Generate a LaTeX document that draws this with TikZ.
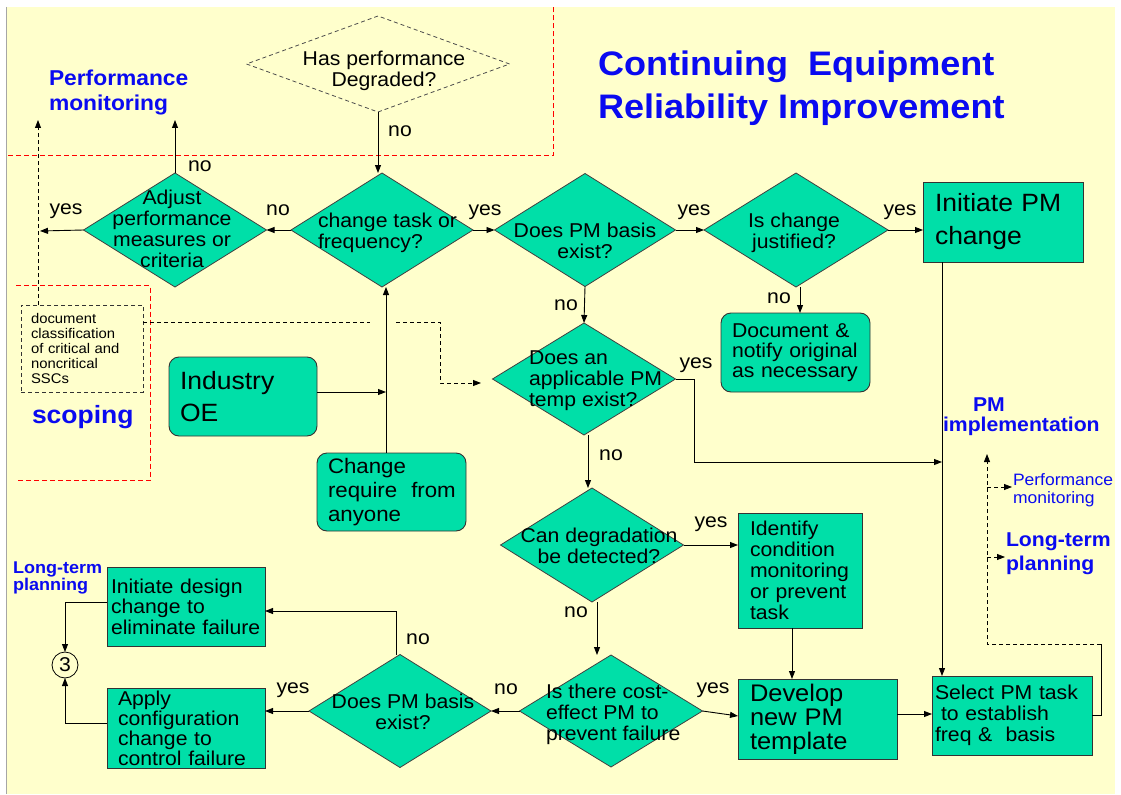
\documentclass[tikz,border=0pt]{standalone}
\usepackage{fontspec}
\setmainfont{Liberation Sans}[FakeStretch=1.06]
\usetikzlibrary{shapes.geometric,arrows.meta,calc}
\definecolor{paper}{HTML}{FFFFCC}
\definecolor{flowfill}{HTML}{00DFA8}
\definecolor{headblue}{HTML}{0A0AF0}
\definecolor{zonered}{HTML}{FF0000}
\newcommand\fsz[2]{\fontsize{#1}{#2}\selectfont}

\begin{document}
\hyphenpenalty=10000
\exhyphenpenalty=10000
\begin{tikzpicture}[x=1pt,y=-1pt,
  every node/.style={inner sep=0pt, outer sep=0pt},
  box/.style={draw=black!80, fill=flowfill, line width=0.9pt, align=left, inner ysep=0pt},
  rbox/.style={box, rounded corners=10pt},
  dia/.style={diamond, draw=black!75, fill=flowfill, line width=0.8pt, inner sep=0pt},
  qtext/.style={align=center, font=\fsz{20}{21}},
  lbl/.style={font=\fsz{20}{20}},
  arr/.style={-{Triangle[length=8pt,width=6pt]}, line width=0.9pt},
  dsh/.style={dash pattern=on 4pt off 3pt, line width=0.8pt},
  zone/.style={draw=zonered, dash pattern=on 5pt off 3pt, line width=1pt},
  head/.style={text=headblue, font=\bfseries\fsz{21.5}{25}, align=left}
]
% page and slide background
\fill[white] (0,0) rectangle (1121,794);
\fill[paper] (6,7) rectangle (1115,794);
\draw[gray!70, line width=1pt] (6,7) -- (6,794);
\useasboundingbox (0,0) rectangle (1121,794);

% zone borders
\draw[zone] (8,155.5) -- (553,155.5) -- (553,7);
\draw[zone] (16,285.5) -- (150,285.5) -- (150,480.5) -- (16,480.5);

% headings
\node[font=\bfseries\fsz{34}{43}, text=headblue, align=left, anchor=west] (title) at (598,88) {Continuing~ Equipment\\Reliability Improvement};
\node[head, anchor=west] (pmhead) at (49,92) {Performance\\monitoring};
\node[text=headblue, font=\bfseries\fsz{25}{25}, anchor=base west] (scop) at (32,423) {scoping};
\node[head, font=\bfseries\fsz{20}{20}, anchor=west] (pmimp) at (943,417) {\hspace*{30pt}PM\\implementation};
\node[text=headblue, font=\fsz{16.5}{18}, align=left, anchor=west] (pmon) at (1013,490) {Performance\\monitoring};
\node[head, font=\bfseries\fsz{20}{24}, anchor=west] (ltr) at (1006,554) {Long-term\\planning};
\node[head, font=\bfseries\fsz{17}{17}, anchor=west] (ltl) at (13,578) {Long-term\\planning};

% decisions
\node[dia, fill=none, draw=black!70, dsh, minimum width=263pt, minimum height=96pt] (hp) at (378,64) {};
\node[qtext] (hpt) at (384,71) {Has performance\\Degraded?};
\node[dia, minimum width=183pt, minimum height=114pt] (d0) at (175,230) {};
\node[qtext] (d0t) at (172,229) {Adjust\\performance\\measures or\\criteria};
\node[dia, minimum width=182pt, minimum height=114pt] (d1) at (382,230) {};
\node[qtext, align=left, anchor=west] (d1t) at (318,233) {change task or\\frequency?};
\node[dia, minimum width=181pt, minimum height=113pt] (d2) at (585,230) {};
\node[qtext] (d2t) at (585,241) {Does PM basis\\exist?};
\node[dia, minimum width=184pt, minimum height=114pt] (dj) at (796,230) {};
\node[qtext] (djt) at (794,233) {Is change\\justified?};
\node[dia, minimum width=183pt, minimum height=112pt] (d3) at (584,379) {};
\node[qtext, align=left, anchor=west] (d3t) at (529,381) {Does an\\applicable PM\\temp exist?};
\node[dia, minimum width=183pt, minimum height=114pt] (d4) at (592,545) {};
\node[qtext] (d4t) at (599,546) {Can degradation\\be detected?};
\node[dia, minimum width=183pt, minimum height=112pt] (d5) at (611,711) {};
\node[qtext, align=left, anchor=west] (d5t) at (546,714) {Is there cost-\\effect PM to\\prevent failure};
\node[dia, minimum width=182pt, minimum height=113pt] (d6) at (400,711) {};
\node[qtext] (d6t) at (403,712) {Does PM basis\\exist?};

% process boxes
\node[box, minimum width=160pt, minimum height=80pt, text width=136pt, inner xsep=12pt, font=\fsz{25}{33}] (ipm) at (1003,222) {Initiate~PM\\change};
\node[rbox, minimum width=148pt, minimum height=79pt, text width=126pt, inner xsep=11pt, font=\fsz{25}{32}] (ind) at (243,396.5) {Industry\\OE};
\node[rbox, minimum width=149pt, minimum height=78pt, text width=127pt, inner xsep=11pt, font=\fsz{21}{24}] (chg) at (391.5,492) {Change\\require~~from\\anyone};
\node[rbox, minimum width=149pt, minimum height=79pt, text width=127pt, inner xsep=11pt, font=\fsz{20}{20}] (doc) at (795.5,352.5) {Document~\&\\notify~original\\as~necessary};
\node[box, minimum width=124pt, minimum height=115pt, text width=100pt, inner xsep=12pt, font=\fsz{20}{21}] (idf) at (800,570.5) {Identify\\condition\\monitoring\\or~prevent\\task};
\node[box, minimum width=159pt, minimum height=80pt, text width=135pt, inner xsep=12pt, font=\fsz{24}{24}] (dev) at (817.5,719) {Develop\\new~PM\\template};
\node[box, minimum width=160pt, minimum height=79pt, text width=154pt, inner xsep=3pt, font=\fsz{20}{21}] (sel) at (1012,715.5) {Select~PM~task\\\hspace*{0.3em}to~establish\\freq~\&~~basis};
\node[box, minimum width=158pt, minimum height=79pt, text width=150pt, inner xsep=4pt, font=\fsz{20}{20.5}] (idc) at (186,606.5) {Initiate~design\\change~to\\eliminate~failure};
\node[box, minimum width=158pt, minimum height=80pt, text width=136pt, inner xsep=11pt, font=\fsz{20}{20}] (apc) at (186,728) {Apply\\configuration\\change~to\\control~failure};
\node[draw=black!80, dsh, minimum width=122pt, minimum height=87pt, text width=102pt, inner xsep=10pt, align=left, font=\fsz{14}{15}] (dcs) at (82,348.5) {document\\classification\\of~critical~and\\noncritical\\SSCs};
\node[circle, draw=black, line width=0.8pt, minimum size=26pt, font=\fsz{20}{20}] (c3) at (65,665) {3};

% free ends and bends
\coordinate (yesend) at (40,231);
\coordinate (pmup) at (178,120);
\coordinate (dcsup) at (38,120);
\coordinate (pmjoin) at (942,462);
\coordinate (fbk) at (1101,644);
\coordinate (fbtop) at (987,454);
\coordinate (pmona) at ([yshift=3pt]pmon.west);
\coordinate (ltra) at ([yshift=-3pt]ltr.west);
\coordinate (vj) at ([xshift=-5.5pt]chg.north);
\coordinate (inda) at ([yshift=4.5pt]ind.east);
\coordinate (dcsa) at ([yshift=26.5pt]dcs.east);
\coordinate (gapl) at (370,322);
\coordinate (gapr) at (396,322);
\coordinate (dbend) at (440,383);
\coordinate (dend) at (481,383);

% connectors
\draw[arr] (hp.south) -- (hp.south |- d1.north);
\node[lbl] (l1) at (400,131) {no};
\draw[arr] (d1.west) -- (d0.east);
\node[lbl] (l2) at (278,210) {no};
\draw[arr] (d0.west) -- (yesend);
\node[lbl] (l3) at (66,211) {yes};
\draw[arr] (d0.north) -- (d0.north |- pmup);
\node[lbl] (l4) at (200,166) {no};
\draw[arr, dsh] (dcs.north west -| dcsup) -- (dcsup);
\draw[arr] (d1.east) -- (d2.west);
\node[lbl] (l5) at (485,212) {yes};
\draw[arr] (d2.east) -- (dj.west);
\node[lbl] (l6) at (694,212) {yes};
\draw[arr] (dj.east) -- (dj.east -| ipm.west);
\node[lbl] (l7) at (900,212) {yes};
\draw[arr] ([xshift=4pt]dj.south) -- ([xshift=4pt]dj.south |- doc.north);
\node[lbl] (l8) at (779,298) {no};
\draw[arr] (d2.south) -- (d3.north);
\node[lbl] (l9) at (566,305) {no};
\draw[arr] ([xshift=19pt]ipm.south west) -- ([xshift=10pt]sel.north west);
\draw[arr] (d3.east) -- ++(19,0) |- (pmjoin);
\node[lbl] (l10) at (696,365) {yes};
\draw[arr] ([xshift=4pt]d3.south) -- ([xshift=-4pt]d4.north);
\node[lbl] (l11) at (611,455) {no};
\draw[arr] (d4.east) -- (d4.east -| idf.west);
\node[lbl] (l12) at (711,524) {yes};
\draw[arr] ([xshift=5pt]d4.south) -- ([xshift=-14pt]d5.north);
\node[lbl] (l13) at (576,612) {no};
\draw[arr] ([xshift=54pt]idf.south west) -- ([xshift=54pt]dev.north west);
\draw[arr] (d5.east) -- ([yshift=3pt]dev.west);
\node[lbl] (l14) at (713,690) {yes};
\draw[arr] ([yshift=5pt]dev.east) -- ([yshift=5pt]dev.east -| sel.west);
\draw[line width=0.9pt] (sel.east) -| (fbk);
\draw[arr, dsh] (fbk) -| (fbtop);
\draw[arr, dsh] (pmona -| fbtop) -- ([xshift=-1pt]pmona);
\draw[arr, dsh] (ltra -| fbtop) -- ([xshift=-1pt]ltra);
\draw[arr] (d5.west) -- (d6.east);
\node[lbl] (l15) at (506,689) {no};
\draw[arr] ([xshift=-4pt]d6.north) |- ([yshift=-4.5pt]idc.east);
\node[lbl] (l16) at (418,639) {no};
\draw[arr] (d6.west) -- (d6.west -| apc.east);
\node[lbl] (l17) at (293,690) {yes};
\draw[arr] ([yshift=4.5pt]idc.west) -| (c3.north);
\draw[arr] ([yshift=5pt]apc.west) -| (c3.south);
\draw[arr] (vj) -- (vj |- d1.south);
\draw[arr] (inda) -- (inda -| vj);
\draw[dsh] (dcsa) -- (gapl);
\draw[dsh, arr] (gapr) -| (dbend) -- (dend);
\end{tikzpicture}
\end{document}
